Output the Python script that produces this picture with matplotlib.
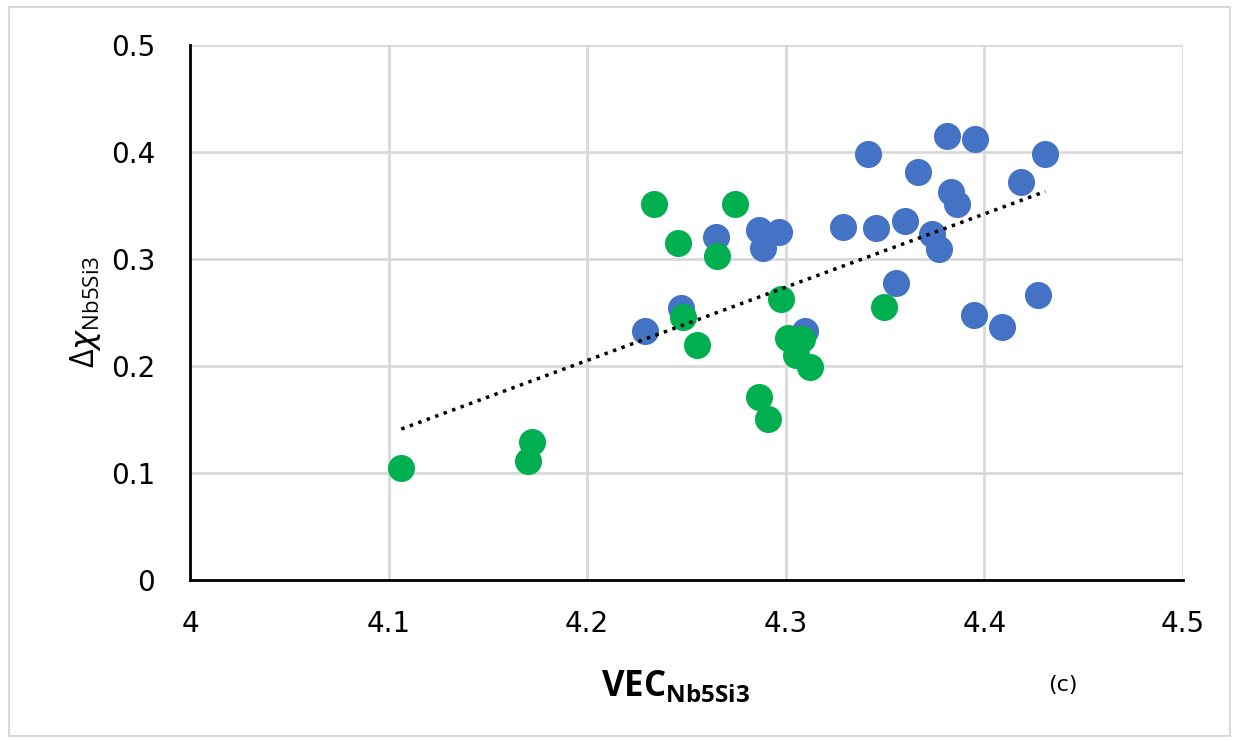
import matplotlib.pyplot as plt
import numpy as np
from matplotlib.patches import Rectangle

# values
blue_x = [4.3414, 4.3814, 4.3955, 4.4307, 4.3666, 4.4186, 4.3834, 4.3864,
          4.3286, 4.3452, 4.3602, 4.3737, 4.3772, 4.3553, 4.3948, 4.4089,
          4.4270, 4.2650, 4.2863, 4.2964, 4.2885, 4.2474, 4.2292, 4.3095]
blue_y = [0.398, 0.415, 0.412, 0.398, 0.381, 0.372, 0.362, 0.351,
          0.330, 0.329, 0.335, 0.323, 0.309, 0.277, 0.247, 0.236,
          0.266, 0.320, 0.327, 0.325, 0.310, 0.254, 0.232, 0.232]

green_x = [4.2338, 4.2746, 4.2457, 4.2653, 4.2976, 4.2485, 4.2554, 4.3011,
           4.3082, 4.3053, 4.3123, 4.2865, 4.2913, 4.3496, 4.1064, 4.1724,
           4.1704]
green_y = [0.351, 0.351, 0.315, 0.303, 0.262, 0.246, 0.219, 0.226,
           0.225, 0.210, 0.199, 0.171, 0.150, 0.255, 0.104, 0.129,
           0.111]

x_ticks = [4, 4.1, 4.2, 4.3, 4.4, 4.5]
y_ticks = [0, 0.1, 0.2, 0.3, 0.4, 0.5]

plt.rcParams['mathtext.fontset'] = 'custom'
plt.rcParams['mathtext.rm'] = 'Open Sans'
plt.rcParams['mathtext.bf'] = 'Open Sans:bold'

fig = plt.figure(figsize=(12.39, 7.42), dpi=100)
ax = fig.add_axes([0.1533, 0.219, 0.8015, 0.7204])

fig.patches.append(Rectangle((0.007, 0.008), 0.986, 0.982, transform=fig.transFigure,
                             fill=False, edgecolor='#d9d9d9', linewidth=1.5))

ax.scatter(blue_x, blue_y, s=380, color='#4472C4', zorder=3, linewidths=0)
ax.scatter(green_x, green_y, s=380, color='#00B050', zorder=4, linewidths=0)

# linear trendline over all points
all_x = np.array(blue_x + green_x)
all_y = np.array(blue_y + green_y)
k, b = np.polyfit(all_x, all_y, 1)
tx = np.array([all_x.min(), all_x.max()])
ax.plot(tx, k * tx + b, color='black', linestyle=(0, (1, 1.6)), linewidth=2.5, zorder=5)

ax.set_xlim(4, 4.5)
ax.set_ylim(0, 0.5)
ax.set_xticks(x_ticks)
ax.set_yticks(y_ticks)
ax.set_xticklabels(['4', '4.1', '4.2', '4.3', '4.4', '4.5'])
ax.set_yticklabels(['0', '0.1', '0.2', '0.3', '0.4', '0.5'])
ax.tick_params(axis='both', length=0, labelsize=20)
ax.tick_params(axis='y', pad=25)
ax.tick_params(axis='x', pad=22)
ax.grid(True, color='#d9d9d9', linewidth=2)
ax.set_axisbelow(True)

for side in ['top', 'right']:
    ax.spines[side].set_visible(False)
for side in ['left', 'bottom']:
    ax.spines[side].set_linewidth(2)
    ax.spines[side].set_color('black')

fig.text(0.545, 0.062, r'$\mathbf{VEC_{Nb5Si3}}$', fontsize=25, ha='center', va='baseline')
ax.set_ylabel(r'$\Delta\chi_{\mathrm{Nb5Si3}}$', fontsize=23, labelpad=6)
fig.text(0.858, 0.077, '(c)', fontsize=16, ha='center', va='center')

fig.savefig('out.png', dpi=100)
